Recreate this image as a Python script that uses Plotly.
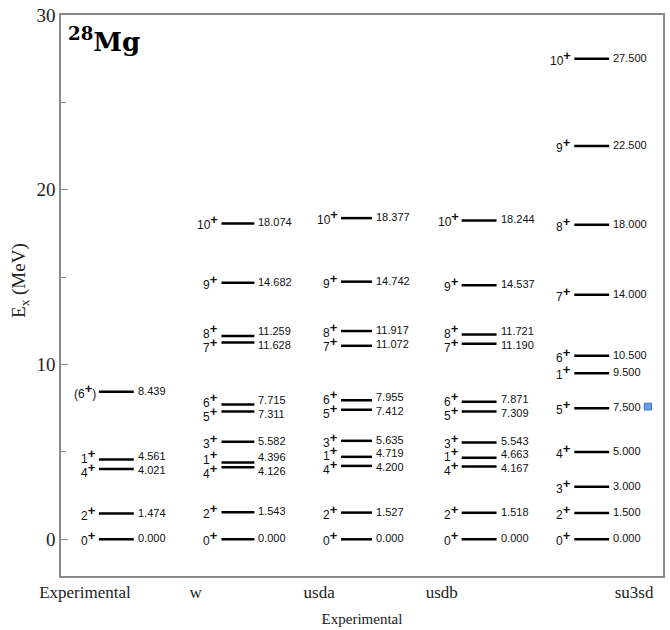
import plotly.graph_objects as go

# ---------------- data ----------------
columns = ["Experimental", "w", "usda", "usdb", "su3sd"]

exp_spins = ["0+", "2+", "4+", "1+", "(6+)"]
exp_energies = ["0.000", "1.474", "4.021", "4.561", "8.439"]

w_spins = ["0+", "2+", "4+", "1+", "3+", "5+", "6+", "7+", "8+", "9+", "10+"]
w_energies = ["0.000", "1.543", "4.126", "4.396", "5.582", "7.311", "7.715",
              "11.628", "11.259", "14.682", "18.074"]

usda_spins = ["0+", "2+", "4+", "1+", "3+", "5+", "6+", "7+", "8+", "9+", "10+"]
usda_energies = ["0.000", "1.527", "4.200", "4.719", "5.635", "7.412", "7.955",
                 "11.072", "11.917", "14.742", "18.377"]

usdb_spins = ["0+", "2+", "4+", "1+", "3+", "5+", "6+", "7+", "8+", "9+", "10+"]
usdb_energies = ["0.000", "1.518", "4.167", "4.663", "5.543", "7.309", "7.871",
                 "11.190", "11.721", "14.537", "18.244"]

su3sd_spins = ["0+", "2+", "3+", "4+", "5+", "1+", "6+", "7+", "8+", "9+", "10+"]
su3sd_energies = ["0.000", "1.500", "3.000", "5.000", "7.500", "9.500", "10.500",
                  "14.000", "18.000", "22.500", "27.500"]

y_ticks = [0, 10, 20, 30]

# ---------------- layout constants (x in pixel-like units of the plot width) ----------------
COL_SPANS = {"Experimental": (38, 73), "w": (161, 194), "usda": (281, 312),
             "usdb": (402, 437), "su3sd": (515, 550)}
TICK_POS = {"Experimental": 24, "w": 135, "usda": 259, "usdb": 382, "su3sd": 575}
PAIR_GAP = 0.86
SPIN_SHIFT = 7
VAL_SHIFT = 7
SERIF = "'Liberation Serif', 'Times New Roman', Times, serif"

data = {
    "Experimental": (exp_spins, exp_energies),
    "w": (w_spins, w_energies),
    "usda": (usda_spins, usda_energies),
    "usdb": (usdb_spins, usdb_energies),
    "su3sd": (su3sd_spins, su3sd_energies),
}

fig = go.Figure()
annotations = []
lab_font = dict(family="'Liberation Sans', Arial, sans-serif", size=11, color="#111")
spin_font = dict(family="'Liberation Sans', Arial, sans-serif", size=12, color="#111")

for col in columns:
    spins, vals = data[col]
    x0, x1 = COL_SPANS[col]
    xs, ys = [], []
    for v in vals:
        e = float(v)
        xs += [x0, x1, None]
        ys += [e, e, None]
    fig.add_trace(go.Scatter(x=xs, y=ys, mode="lines",
                             line=dict(color="black", width=2.5),
                             hoverinfo="skip", showlegend=False))
    n = len(vals)
    for i, (s, v) in enumerate(zip(spins, vals)):
        e = float(v)
        base = e
        sshift = 0
        vshift = 0
        if i + 1 < n and abs(float(vals[i + 1]) - e) < PAIR_GAP:
            base = (e + float(vals[i + 1])) / 2
            sshift, vshift = -SPIN_SHIFT, -VAL_SHIFT
        elif i > 0 and abs(float(vals[i - 1]) - e) < PAIR_GAP:
            base = (e + float(vals[i - 1])) / 2
            sshift, vshift = SPIN_SHIFT, VAL_SHIFT
        spin_txt = s.replace("+", "<sup><b><span style='font-size:13px'>+</span></b></sup>")
        annotations.append(dict(x=x0 - 1, y=base, xref="x", yref="y", text=spin_txt,
                                showarrow=False, xanchor="right", yanchor="middle",
                                yshift=sshift + 1, font=spin_font))
        annotations.append(dict(x=x1 + 2, y=base, xref="x", yref="y", text=v,
                                showarrow=False, xanchor="left", yanchor="middle",
                                yshift=vshift + 1, font=lab_font))

annotations.append(dict(x=0.008, y=0.99, xref="paper", yref="paper",
                        text="<b><sup>28</sup>Mg</b>", showarrow=False,
                        xanchor="left", yanchor="top",
                        font=dict(family="'DejaVu Serif', serif", size=26, color="black")))

annotations.append(dict(x=-0.068, y=0.526, xref="paper", yref="paper",
                        text="E<sub>x</sub> (MeV)", showarrow=False, textangle=-90,
                        xanchor="center", yanchor="middle",
                        font=dict(family=SERIF, size=19, color="#222")))

fig.update_layout(
    width=670, height=630,
    margin=dict(l=61, r=5, t=12, b=53),
    paper_bgcolor="white", plot_bgcolor="white",
    annotations=annotations,
    shapes=[dict(type="rect", xref="paper", yref="paper",
                 x0=0.969, x1=0.981, y0=0.296, y1=0.308,
                 fillcolor="#6c9be6", line=dict(color="#3d6fcf", width=1))],
    xaxis=dict(range=[0, 604], tickvals=[TICK_POS[c] for c in columns], ticktext=columns,
               showgrid=False, zeroline=False, showline=True, mirror=True,
               linecolor="#8a8a8a", linewidth=1.5, ticks="",
               tickfont=dict(family=SERIF, size=17, color="#222"),
               title=dict(text="Experimental", standoff=12,
                          font=dict(family=SERIF, size=15, color="#222"))),
    yaxis=dict(range=[-2.1, 30], tickvals=y_ticks, showgrid=False, zeroline=False,
               showline=True, mirror=True, linecolor="#8a8a8a", linewidth=1.5,
               ticks="inside", ticklen=7, tickcolor="#8a8a8a",
               minor=dict(dtick=5, ticks="inside", ticklen=5, tickcolor="#8a8a8a"),
               tickfont=dict(family=SERIF, size=19, color="#222")),
)

fig.write_html("out.html")
